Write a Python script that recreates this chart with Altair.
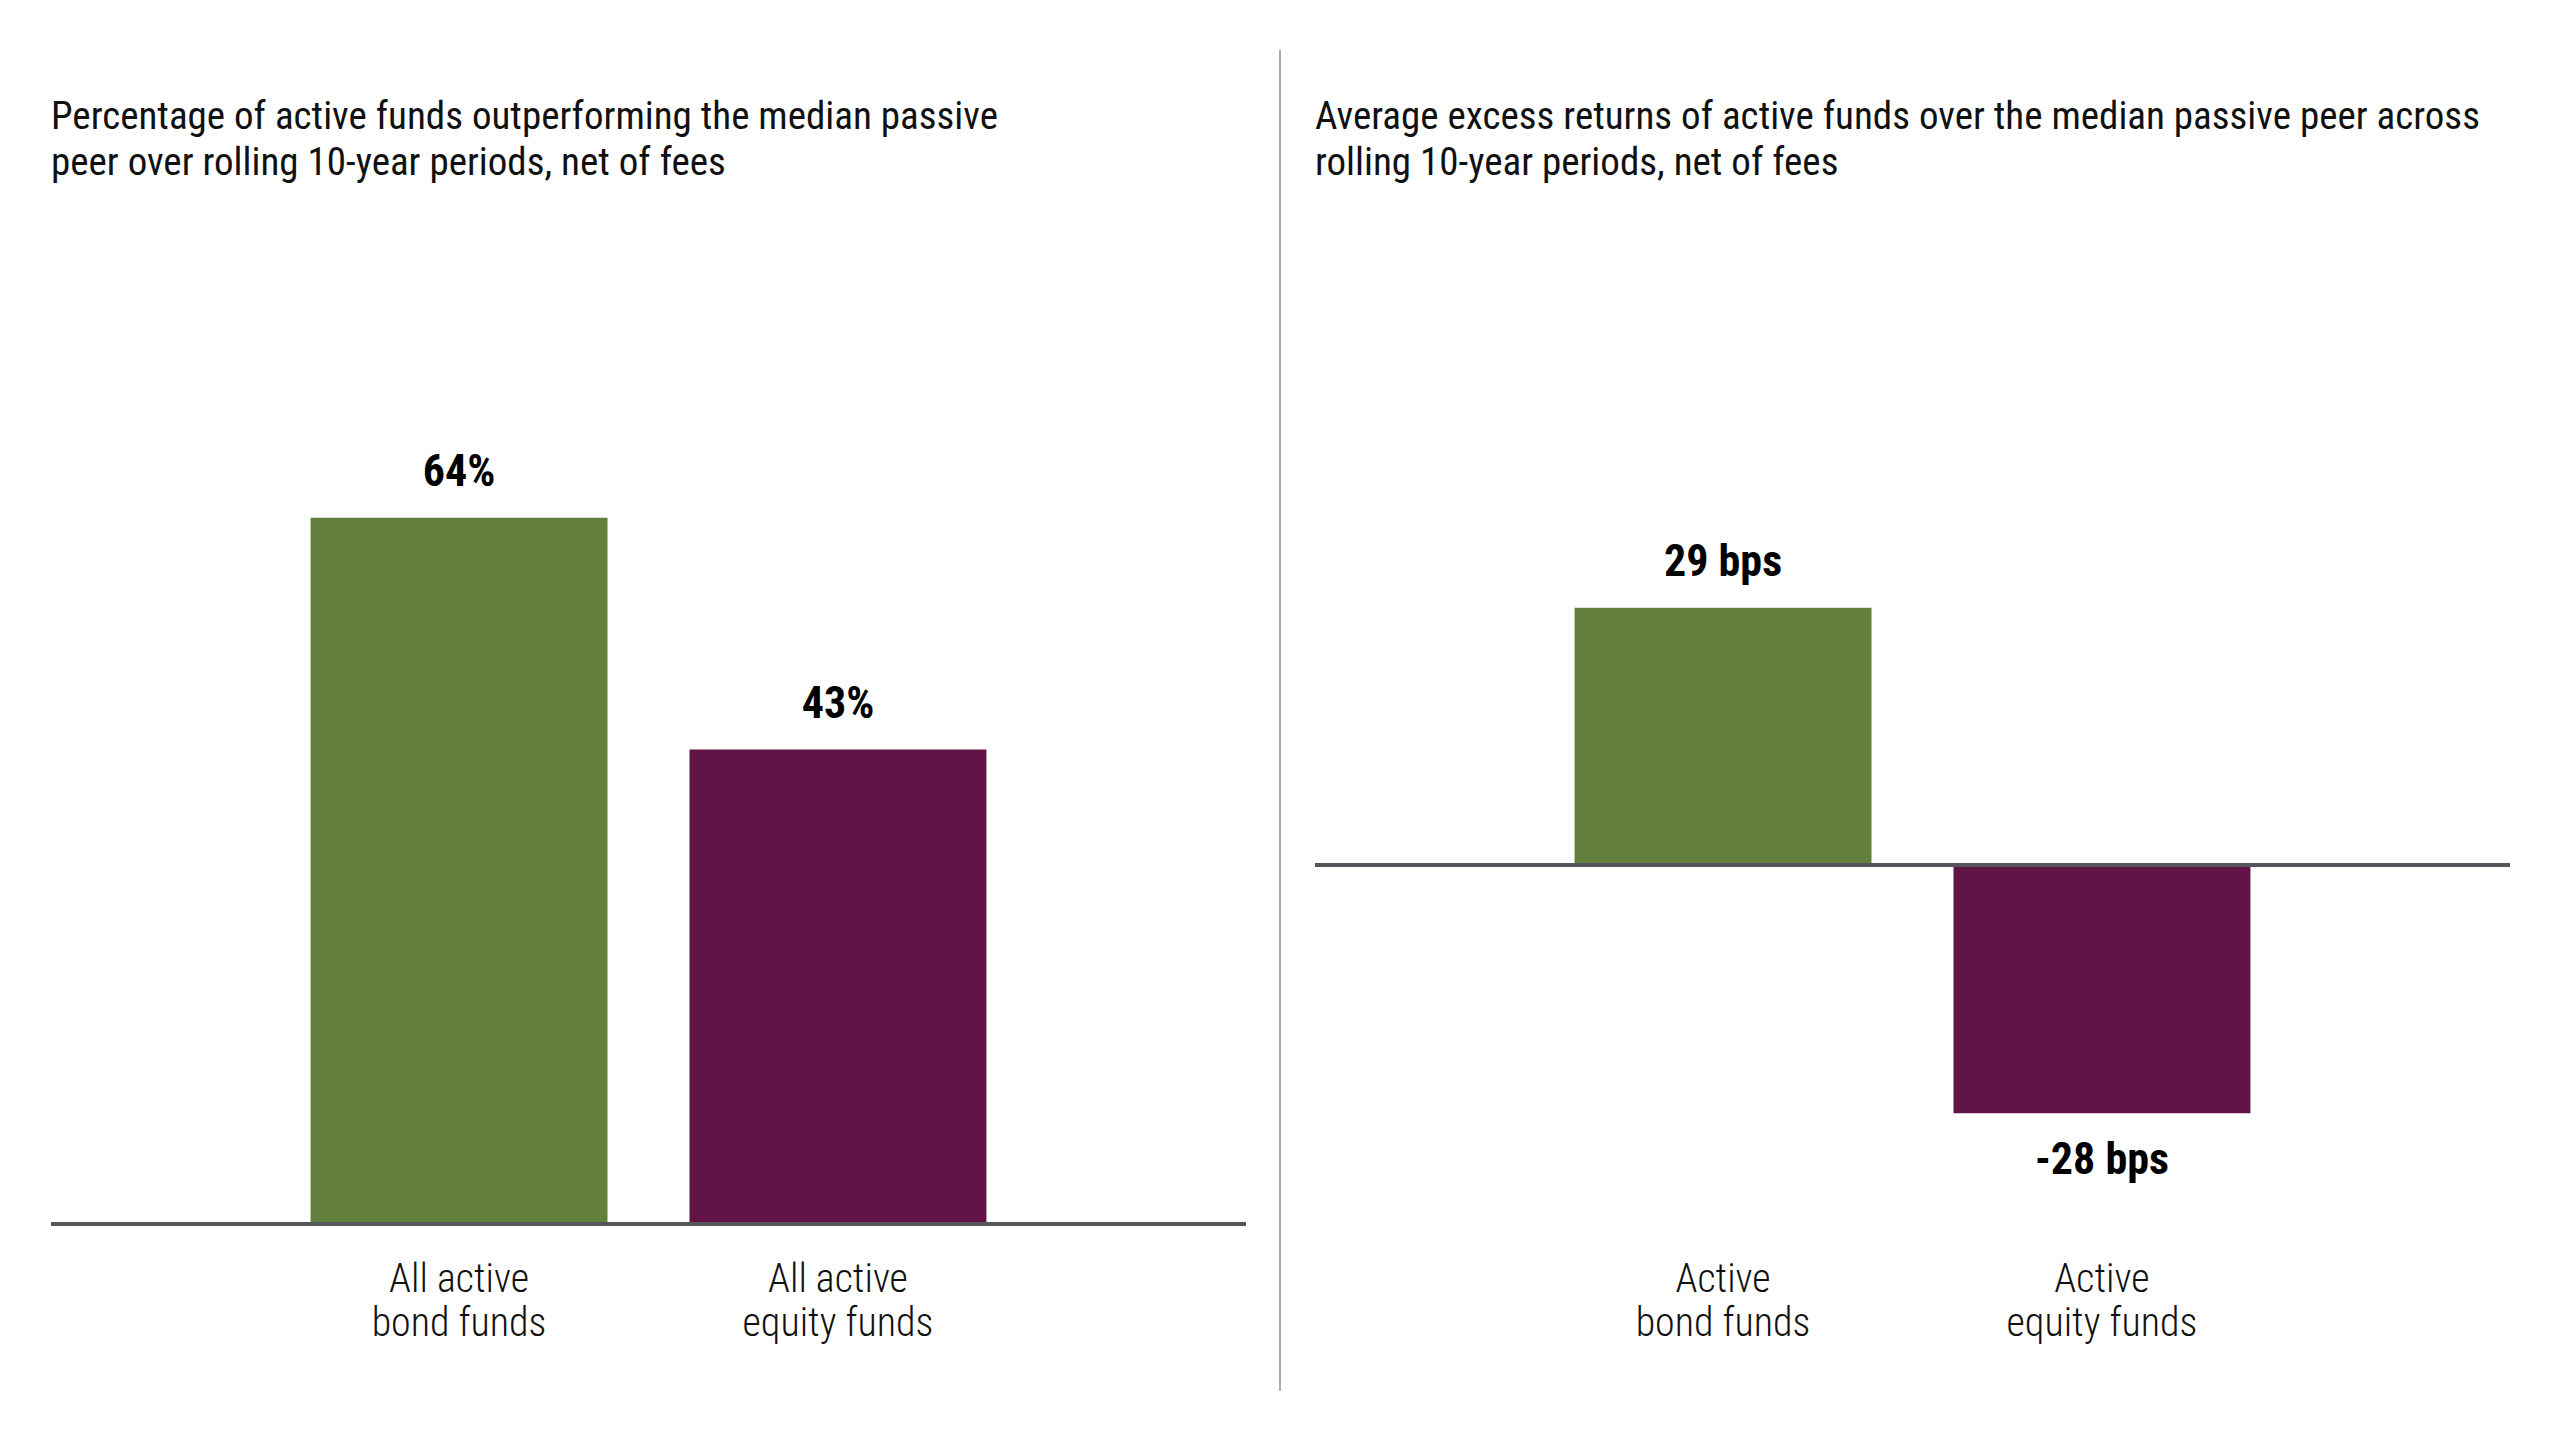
import altair as alt
import pandas as pd

# ---- data ----
left_categories = ["All active|bond funds", "All active|equity funds"]
left_values = [64, 43]
left_labels = ["64%", "43%"]

right_categories = ["Active|bond funds", "Active|equity funds"]
right_values = [29, -28]
right_labels = ["29 bps", "-28 bps"]

bar_colors = ["#62803C", "#611445"]

left_title = ["Percentage of active funds outperforming the median passive",
              "peer over rolling 10-year periods, net of fees"]
right_title = ["Average excess returns of active funds over the median passive peer across",
               "rolling 10-year periods, net of fees"]

FONT = "Roboto Condensed, Liberation Sans Narrow, Arial Narrow, Roboto, sans-serif"
LIGHT = "Roboto Condensed Light, Roboto Condensed, Roboto, sans-serif"
W, H = 1195, 993


def panel(cats, vals, labels, title, domain, divider=False):
    df = pd.DataFrame({"cat": cats, "value": vals, "base": [0] * len(vals),
                       "label": labels, "color": bar_colors})
    yscale = alt.Scale(domain=domain, nice=False, zero=False)
    x = alt.X(
        "cat:N", sort=cats,
        scale=alt.Scale(paddingInner=0.2164, paddingOuter=0.685),
        axis=alt.Axis(title=None, domain=False, ticks=False, labelAngle=0,
                      labelExpr="split(datum.label, '|')", labelFontSize=40,
                      labelFont=LIGHT, labelFontWeight=300, labelColor="#111111",
                      labelPadding=35, labelLineHeight=44, labelBaseline="top",
                      labelLimit=0),
    )
    y = alt.Y("value:Q", scale=yscale, axis=None)
    base = alt.Chart(df)
    bars = base.mark_bar().encode(x=x, y=y, y2=alt.Y2("base:Q"),
                                  color=alt.Color("color:N", scale=None))
    zero = base.mark_rule(color="#54565B", strokeWidth=4).encode(
        y=alt.Y("base:Q", scale=yscale, axis=None))
    pos = base.mark_text(font=FONT, fontSize=44, fontWeight="bold", color="#000000",
                         baseline="middle", dy=-45).encode(
        x=x, y=y, text="label:N").transform_filter("datum.value >= 0")
    neg = base.mark_text(font=FONT, fontSize=44, fontWeight="bold", color="#000000",
                         baseline="middle", dy=48).encode(
        x=x, y=y, text="label:N").transform_filter("datum.value < 0")
    # panel title drawn as text
    ttl = alt.Chart(pd.DataFrame({"t": [0]})).mark_text(
        font=FONT, fontSize=39, color="#111111", align="left",
        baseline="alphabetic", lineHeight=46).encode(
        x=alt.value(0), y=alt.value(-102), text=alt.value(title))
    # vertical separator (visible only in the right panel; invisible twin keeps cells aligned)
    div = base.mark_rule(color="#AAAAAA", strokeWidth=2,
                         opacity=1 if divider else 0).encode(
        x=alt.value(-35 if divider else 10), y=alt.value(-181), y2=alt.value(1160))
    layers = [bars, zero, pos, neg, ttl, div]
    return alt.layer(*layers).properties(width=W, height=H)


left = panel(left_categories, left_values, left_labels, left_title, [0, 90])
right = panel(right_categories, right_values, right_labels, right_title, [-40.5, 71.5], divider=True)

chart = alt.hconcat(left, right, spacing=31).properties(
    padding={"left": 41, "top": 41, "right": 10, "bottom": 10},
).configure_view(stroke=None)

chart.save("out.html", embed_options={"renderer": "svg", "actions": False})
